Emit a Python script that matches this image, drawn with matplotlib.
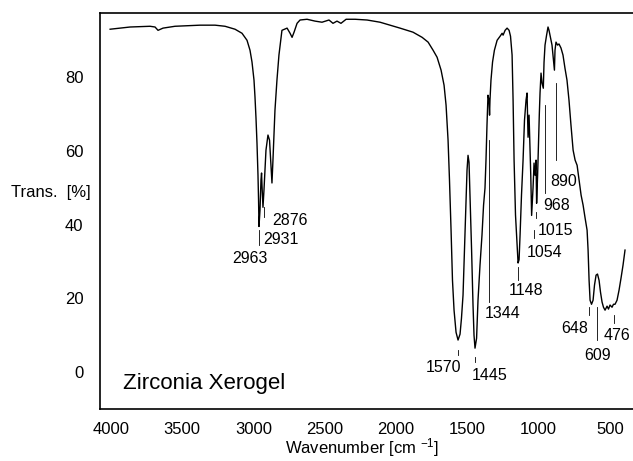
import numpy as np
import matplotlib
matplotlib.use("Agg")
import matplotlib.pyplot as plt

plt.rcParams["font.family"] = ["Liberation Sans", "DejaVu Sans"]
plt.rcParams["mathtext.default"] = "regular"

# IR spectrum (wavenumber in cm-1, transmission in %)
wavenumber = [
    4006, 3866, 3726, 3691, 3670, 3635, 3551, 3375, 3270, 3200, 3130, 3081,
    3046, 3025, 3011, 2997, 2990, 2983, 2976, 2969, 2965, 2962, 2955, 2948,
    2944, 2941, 2934, 2927, 2913, 2899, 2888, 2878, 2871, 2864, 2850, 2836,
    2822, 2801, 2765, 2744, 2730, 2716, 2695, 2674, 2625, 2569, 2520, 2471,
    2443, 2415, 2387, 2351, 2288, 2204, 2113, 2043, 1973, 1882, 1818, 1776,
    1741, 1713, 1685, 1664, 1650, 1636, 1626, 1615, 1605, 1594, 1580, 1566,
    1552, 1542, 1531, 1521, 1510, 1503, 1496, 1489, 1482, 1471, 1461, 1454,
    1447, 1436, 1426, 1412, 1398, 1387, 1377, 1370, 1363, 1356, 1349, 1345,
    1342, 1335, 1324, 1311, 1292, 1271, 1257, 1250, 1236, 1222, 1208, 1198,
    1187, 1180, 1173, 1163, 1152, 1145, 1138, 1131, 1121, 1110, 1100, 1089,
    1082, 1075, 1068, 1061, 1056, 1050, 1040, 1033, 1026, 1019, 1015, 1008,
    1002, 996, 991, 984, 977, 968, 963, 956, 945, 935, 928, 917,
    907, 900, 890, 886, 879, 868, 858, 844, 830, 816, 802, 788,
    774, 759, 745, 731, 717, 703, 689, 675, 661, 654, 647, 640,
    630, 619, 609, 598, 588, 577, 567, 556, 546, 535, 521, 511,
    500, 486, 476, 465, 451, 437, 423, 409, 395,
]
transmission = [
    93.0, 93.6, 93.8, 93.6, 92.7, 93.3, 93.8, 94.1, 94.1, 93.8, 93.0, 91.9,
    90.0, 87.3, 84.1, 79.2, 74.6, 68.9, 62.1, 53.4, 46.6, 39.5, 43.9, 52.1,
    54.0, 50.7, 44.7, 49.4, 60.2, 64.3, 62.9, 56.1, 51.3, 57.5, 71.0, 79.2,
    86.0, 92.7, 93.3, 91.9, 90.8, 92.2, 94.6, 95.5, 95.7, 95.2, 94.9, 95.5,
    94.6, 95.2, 94.6, 95.7, 95.7, 95.5, 94.9, 94.1, 93.3, 92.2, 90.8, 89.5,
    87.3, 85.4, 81.9, 77.8, 72.4, 62.9, 52.1, 38.5, 24.9, 16.8, 10.8, 8.7,
    10.3, 14.6, 20.9, 33.1, 46.6, 54.8, 58.8, 56.9, 48.0, 33.1, 18.2, 10.0,
    6.5, 9.2, 19.5, 29.0, 37.2, 45.3, 49.9, 57.5, 67.0, 75.1, 73.8, 69.7,
    73.8, 79.2, 84.1, 87.3, 90.0, 91.1, 91.9, 91.4, 92.7, 93.3, 92.7, 91.1,
    86.0, 73.8, 57.5, 42.6, 34.4, 29.6, 30.5, 37.2, 48.0, 57.5, 68.3, 73.8,
    75.7, 63.7, 69.7, 60.2, 53.4, 42.5, 50.0, 56.7, 53.4, 57.5, 45.8, 53.4,
    62.0, 70.0, 75.7, 81.1, 78.4, 77.0, 84.0, 88.7, 91.4, 93.6, 92.7, 90.6,
    88.7, 86.0, 81.9, 87.3, 89.5, 88.7, 89.0, 87.9, 86.0, 82.4, 79.2, 73.8,
    67.0, 60.2, 57.5, 56.1, 52.1, 48.0, 45.3, 41.8, 38.5, 33.1, 24.9, 19.5,
    18.4, 19.5, 23.6, 26.3, 26.6, 24.9, 21.7, 19.0, 17.6, 16.8, 17.9, 17.1,
    18.2, 17.6, 18.4, 18.4, 19.5, 22.2, 25.5, 29.0, 33.1,
]

# peak annotations: label, text position, leader line (x, top, bottom)
peak_labels = ["2963", "2931", "2876", "1570", "1445", "1344", "1148",
               "1054", "1015", "968", "890", "648", "609", "476"]
text_x = [3025, 2934, 2870, 1668, 1345, 1254, 1086, 956, 882, 875, 826, 745, 588, 454]
text_y = [30.9, 36.1, 41.0, 1.2, -0.8, 16.0, 22.2, 32.5, 38.5, 45.3, 51.7, 11.9, 4.6, 10.0]
text_ha = ["center", "left", "left", "center", "center", "center", "center",
           "center", "center", "center", "center", "center", "center", "center"]
lead_x = [None, 2962, 2927, 1566, 1447, 1349, 1145, 1033, 1021, 958, 879, 647, 591, 472]
lead_top = [None, 38.5, 44.7, 6.0, 4.1, 63.0, 28.5, 38.5, 43.4, 72.4, 78.4, 17.6, 17.6, 15.5]
lead_bottom = [None, 34.4, 42.0, 4.6, 2.7, 19.0, 25.0, 36.3, 41.8, 48.5, 57.5, 15.5, 8.7, 13.3]

fig = plt.figure(figsize=(6.33, 4.61), dpi=100)
ax = fig.add_axes([100 / 633, 1 - 409 / 461, 533 / 633, 396 / 461])

ax.plot(wavenumber, transmission, color="black", lw=1.0)

for lab, tx, ty, ha in zip(peak_labels, text_x, text_y, text_ha):
    ax.text(tx, ty, lab, ha=ha, va="center", fontsize=11.5)
for x, y0, y1 in zip(lead_x, lead_top, lead_bottom):
    if x is not None:
        ax.plot([x, x], [y0, y1], color="black", lw=0.6)

ax.text(3915, -3, "Zirconia Xerogel", ha="left", va="center", fontsize=16)

ax.set_xlim(4077, 339)
ax.set_ylim(-10, 97.4)
ax.set_xticks([4000, 3500, 3000, 2500, 2000, 1500, 1000, 500])
ax.set_yticks([0, 20, 40, 60, 80])
ax.tick_params(length=0, labelsize=12)
ax.tick_params(axis="x", pad=9)
ax.tick_params(axis="y", pad=12)

ax.spines["right"].set_visible(False)
for side in ["left", "top", "bottom"]:
    ax.spines[side].set_linewidth(1.2)

ax.set_xlabel("Wavenumber [cm $^{-1}$]", fontsize=12)
ax.xaxis.set_label_coords((362 - 100) / 533, (409 - 448) / 396)
ax.xaxis.label.set_va("center")
ax.set_ylabel("Trans.  [%]", fontsize=12, rotation=0)
ax.yaxis.set_label_coords((51 - 100) / 533, (409 - 192) / 396)
ax.yaxis.label.set_va("center")
ax.yaxis.label.set_ha("center")

fig.savefig("out.png", dpi=100)
